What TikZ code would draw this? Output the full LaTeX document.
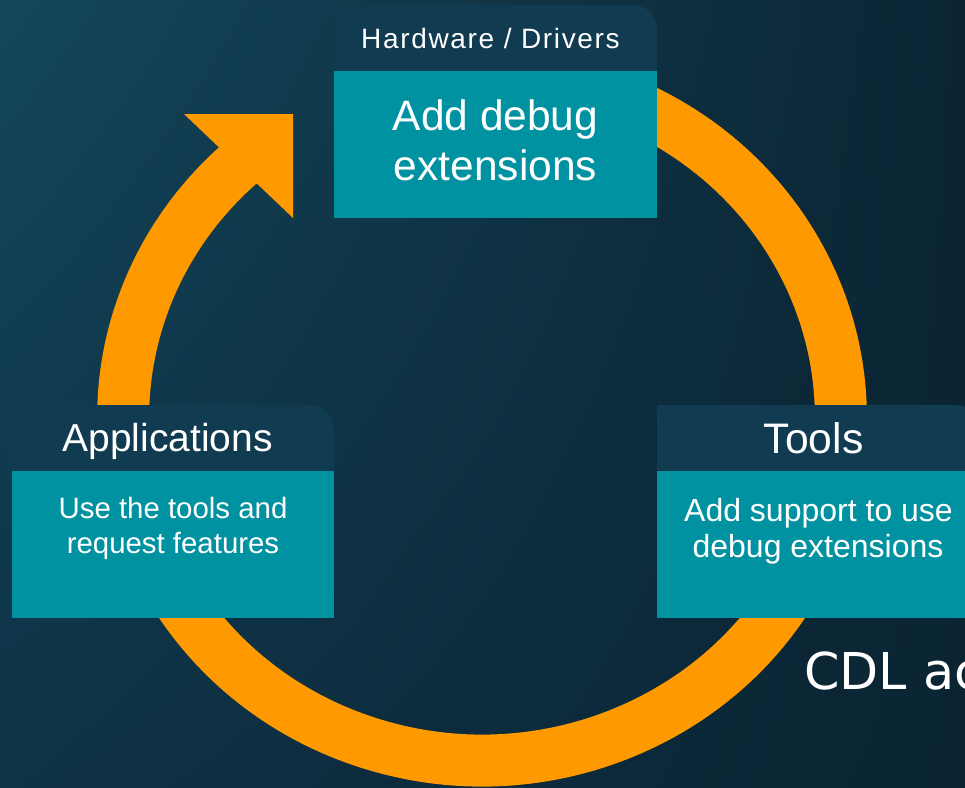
\documentclass[tikz,border=0pt]{standalone}
\usepackage{fontspec}
\usetikzlibrary{shadings}
\setmainfont{Liberation Sans}
\newfontfamily\cdlfont{DejaVu Sans}

\definecolor{bgTL}{HTML}{14465B}
\definecolor{bgTR}{HTML}{0B2534}
\definecolor{bgBL}{HTML}{0E3246}
\definecolor{bgBR}{HTML}{0A2432}
\definecolor{hdrblue}{HTML}{113B50}
\definecolor{bodyteal}{HTML}{0092A0}
\definecolor{ringorange}{HTML}{FF9900}

\tikzset{
  ring/.style={draw=ringorange, line width=52pt},
  ringhead/.style={fill=ringorange},
  hdr/.style={fill=hdrblue},
  bodybox/.style={fill=bodyteal, inner sep=0pt, minimum width=323pt, minimum height=146.5pt, anchor=north west},
  txt/.style={text=white, inner sep=0pt, anchor=base},
  hdrsmall/.style={font={\fontsize{28}{34}\selectfont\addfontfeatures{LetterSpace=6}}},
  hdrbig/.style={font=\fontsize{39}{46}\selectfont},
  bodybig/.style={font=\fontsize{42.5}{50}\selectfont},
}

% header band of a box, square on the left, rounded top-right corner
\newcommand{\hdrband}[4]{%
  \fill[hdr] (#1,#4) -- (#1,#2) -- ({#3-24},#2)
    arc[start angle=-90, end angle=0, radius=24] -- (#3,#4) -- cycle;}

\begin{document}
\begin{tikzpicture}[x=1pt,y=-1pt]
\useasboundingbox (0,0) rectangle (965,787);
\clip (0,0) rectangle (965,787);

% background
\shade[upper left=bgTL, upper right=bgTR, lower left=bgBL, lower right=bgBR]
  (0,0) rectangle (965,787);

% the cycle ring, its end tucked under the arrow head
\coordinate (ringc) at (482,417);
\draw[ring] (ringc) ++(-70:358.75 and 343.5) coordinate (ringstart)
  arc[start angle=-70, end angle=229.5, x radius=358.75, y radius=343.5]
  coordinate (ringend);
\coordinate (headtip) at (293,114);
\coordinate (headwingA) at (184,114);
\coordinate (headwingB) at (293,218);
\fill[ringhead] (headwingA) -- (headtip) -- (headwingB) -- cycle;

% Hardware / Drivers box
\hdrband{334}{5}{657}{72}
\node[bodybox] (hwbody) at (334,71) {};
\node[txt, hdrsmall] (hwtitle) at (490.5,48) {Hardware / Drivers};
\node[txt, bodybig] (hwline1) at (495.5,130) {Add debug};
\node[txt, bodybig] (hwline2) at (495.5,180) {extensions};

% Applications box
\hdrband{12}{405}{334}{472}
\node[bodybox, minimum width=322pt] (appbody) at (12,471) {};
\node[txt, hdrbig] (apptitle) at (167.5,451.5) {Applications};
\node[txt, font=\fontsize{29.4}{35}\selectfont] (appline1) at (173,518) {Use the tools and};
\node[txt, font=\fontsize{29.4}{35}\selectfont] (appline2) at (173,553) {request features};

% Tools box
\hdrband{657}{405}{980}{472}
\node[bodybox] (toolbody) at (657,471) {};
\node[txt, font=\fontsize{42.7}{50}\selectfont] (tooltitle) at (813.5,453) {Tools};
\node[txt, font=\fontsize{32}{38}\selectfont] (toolline1) at (818.5,521) {Add support to use};
\node[txt, font=\fontsize{32}{38}\selectfont] (toolline2) at (818,557) {debug extensions};

% caption running off the right edge
\node[text=white, inner sep=0pt, anchor=base west, font={\cdlfont\fontsize{50.8}{60}\selectfont}]
  (cdl) at (804,689) {CDL ac};
\end{tikzpicture}
\end{document}
